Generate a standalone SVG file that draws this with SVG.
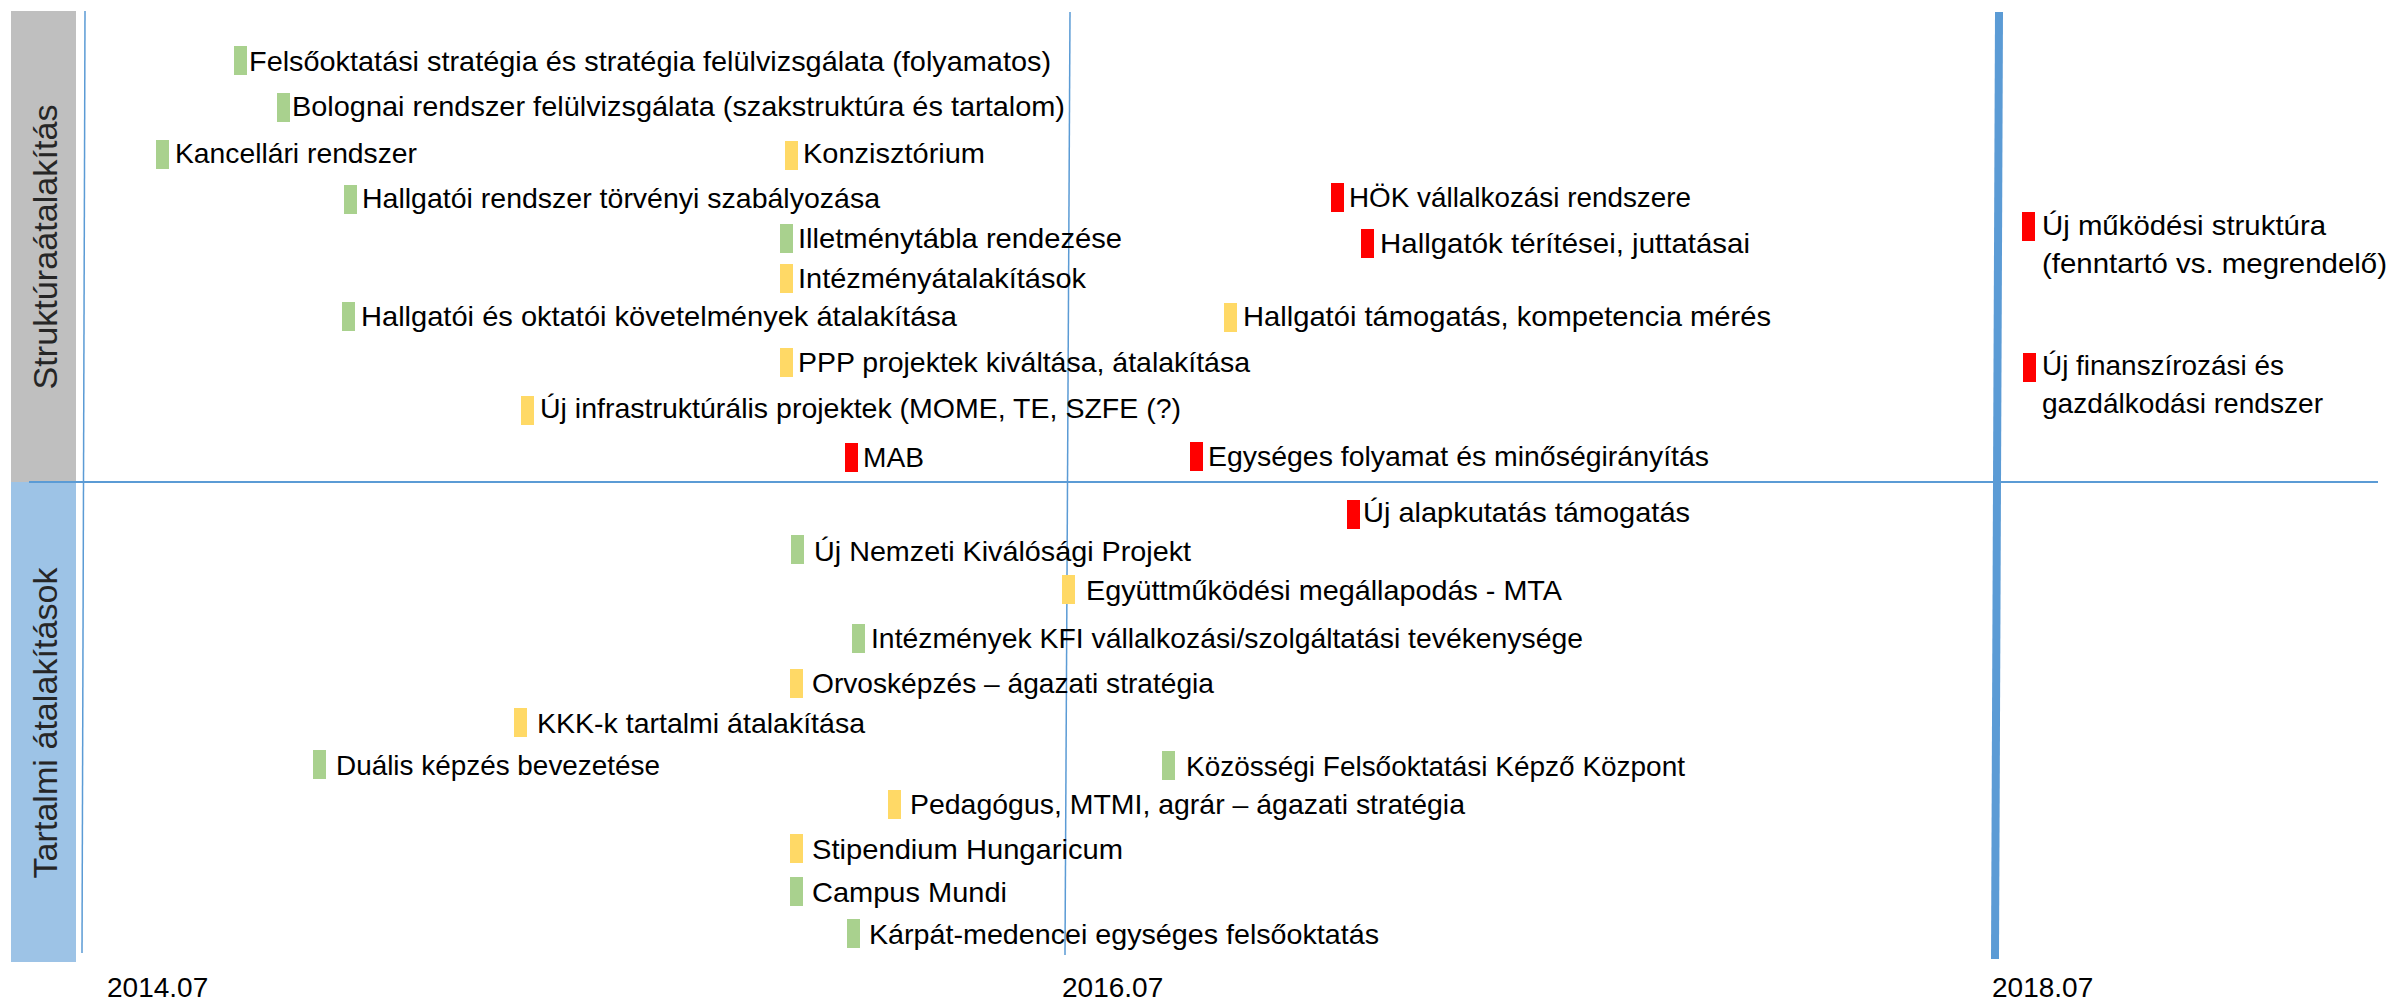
<svg xmlns="http://www.w3.org/2000/svg" width="2392" height="1002" viewBox="0 0 2392 1002">
<style>
.t{font-family:"Liberation Sans",Arial,sans-serif;font-size:28px;fill:#000}
.v{font-family:"Liberation Sans",Arial,sans-serif;font-size:34px;fill:#262626}
.g{fill:#A9D18E}.y{fill:#FFD966}.r{fill:#FF0000}
.ax{stroke:#5B9BD5;fill:none}
</style>
<rect width="2392" height="1002" fill="#fff"/>
<g id="lane-struktura">
<rect x="11" y="11" width="65" height="471" fill="#BFBFBF"/>
<text class="v" transform="translate(57,247) rotate(-90)" text-anchor="middle" textLength="285" lengthAdjust="spacingAndGlyphs">Struktúraátalakítás</text>
</g>
<g id="lane-tartalmi">
<rect x="11" y="482" width="65" height="480" fill="#9DC3E6"/>
<text class="v" transform="translate(57,723) rotate(-90)" text-anchor="middle" textLength="311" lengthAdjust="spacingAndGlyphs">Tartalmi átalakítások</text>
</g>
<g id="connectors">
<line class="ax" x1="85" y1="11" x2="82" y2="953" stroke-width="1.5"/>
<line class="ax" x1="1070" y1="12" x2="1065" y2="955" stroke-width="1.5"/>
<line class="ax" x1="29" y1="482" x2="2378" y2="482" stroke-width="2"/>
<line class="ax" x1="1999" y1="12" x2="1995" y2="959" stroke-width="8"/>
</g>
<g id="axis-labels">
<text class="t" x="107" y="997">2014.07</text>
<text class="t" x="1062" y="997">2016.07</text>
<text class="t" x="1992" y="997">2018.07</text>
</g>
<g id="n1"><rect class="g" x="234" y="46" width="13" height="29"/><text class="t" x="249" y="71" textLength="802" lengthAdjust="spacingAndGlyphs">Felsőoktatási stratégia és stratégia felülvizsgálata (folyamatos)</text></g>
<g id="n2"><rect class="g" x="277" y="93" width="13" height="29"/><text class="t" x="292" y="116" textLength="773" lengthAdjust="spacingAndGlyphs">Bolognai rendszer felülvizsgálata (szakstruktúra és tartalom)</text></g>
<g id="n3"><rect class="g" x="156" y="140" width="13" height="29"/><text class="t" x="175" y="163" textLength="242" lengthAdjust="spacingAndGlyphs">Kancellári rendszer</text></g>
<g id="n4"><rect class="y" x="785" y="141" width="13" height="29"/><text class="t" x="803" y="163" textLength="182" lengthAdjust="spacingAndGlyphs">Konzisztórium</text></g>
<g id="n5"><rect class="g" x="344" y="185" width="13" height="29"/><text class="t" x="362" y="208" textLength="518" lengthAdjust="spacingAndGlyphs">Hallgatói rendszer törvényi szabályozása</text></g>
<g id="n6"><rect class="r" x="1331" y="183" width="13" height="29"/><text class="t" x="1349" y="207" textLength="342" lengthAdjust="spacingAndGlyphs">HÖK vállalkozási rendszere</text></g>
<g id="n7"><rect class="g" x="780" y="224" width="13" height="29"/><text class="t" x="798" y="248" textLength="324" lengthAdjust="spacingAndGlyphs">Illetménytábla rendezése</text></g>
<g id="n8"><rect class="r" x="1361" y="229" width="13" height="29"/><text class="t" x="1380" y="253" textLength="370" lengthAdjust="spacingAndGlyphs">Hallgatók térítései, juttatásai</text></g>
<g id="n9"><rect class="y" x="780" y="264" width="13" height="29"/><text class="t" x="798" y="288" textLength="288" lengthAdjust="spacingAndGlyphs">Intézményátalakítások</text></g>
<g id="n10"><rect class="g" x="342" y="302" width="13" height="29"/><text class="t" x="361" y="326" textLength="596" lengthAdjust="spacingAndGlyphs">Hallgatói és oktatói követelmények átalakítása</text></g>
<g id="n11"><rect class="y" x="1224" y="303" width="13" height="29"/><text class="t" x="1243" y="326" textLength="528" lengthAdjust="spacingAndGlyphs">Hallgatói támogatás, kompetencia mérés</text></g>
<g id="n12"><rect class="y" x="780" y="348" width="13" height="29"/><text class="t" x="798" y="372" textLength="452" lengthAdjust="spacingAndGlyphs">PPP projektek kiváltása, átalakítása</text></g>
<g id="n13"><rect class="y" x="521" y="396" width="13" height="29"/><text class="t" x="540" y="418" textLength="641" lengthAdjust="spacingAndGlyphs">Új infrastruktúrális projektek (MOME, TE, SZFE (?)</text></g>
<g id="n14"><rect class="r" x="845" y="443" width="13" height="29"/><text class="t" x="863" y="467" textLength="61" lengthAdjust="spacingAndGlyphs">MAB</text></g>
<g id="n15"><rect class="r" x="1190" y="442" width="13" height="29"/><text class="t" x="1208" y="466" textLength="501" lengthAdjust="spacingAndGlyphs">Egységes folyamat és minőségirányítás</text></g>
<g id="n16"><rect class="r" x="2022" y="212" width="13" height="29"/><text class="t" x="2042" y="235" textLength="284" lengthAdjust="spacingAndGlyphs">Új működési struktúra</text><text class="t" x="2042" y="273" textLength="345" lengthAdjust="spacingAndGlyphs">(fenntartó vs. megrendelő)</text></g>
<g id="n17"><rect class="r" x="2023" y="353" width="13" height="29"/><text class="t" x="2042" y="375" textLength="242" lengthAdjust="spacingAndGlyphs">Új finanszírozási és</text><text class="t" x="2042" y="413" textLength="281" lengthAdjust="spacingAndGlyphs">gazdálkodási rendszer</text></g>
<g id="n18"><rect class="r" x="1347" y="500" width="13" height="29"/><text class="t" x="1363" y="522" textLength="327" lengthAdjust="spacingAndGlyphs">Új alapkutatás támogatás</text></g>
<g id="n19"><rect class="g" x="791" y="535" width="13" height="29"/><text class="t" x="814" y="561" textLength="377" lengthAdjust="spacingAndGlyphs">Új Nemzeti Kiválósági Projekt</text></g>
<g id="n20"><rect class="y" x="1062" y="575" width="13" height="29"/><text class="t" x="1086" y="600" textLength="476" lengthAdjust="spacingAndGlyphs">Együttműködési megállapodás - MTA</text></g>
<g id="n21"><rect class="g" x="852" y="624" width="13" height="29"/><text class="t" x="871" y="648" textLength="712" lengthAdjust="spacingAndGlyphs">Intézmények KFI vállalkozási/szolgáltatási tevékenysége</text></g>
<g id="n22"><rect class="y" x="790" y="669" width="13" height="29"/><text class="t" x="812" y="693" textLength="402" lengthAdjust="spacingAndGlyphs">Orvosképzés – ágazati stratégia</text></g>
<g id="n23"><rect class="y" x="514" y="708" width="13" height="29"/><text class="t" x="537" y="733" textLength="328" lengthAdjust="spacingAndGlyphs">KKK-k tartalmi átalakítása</text></g>
<g id="n24"><rect class="g" x="313" y="750" width="13" height="29"/><text class="t" x="336" y="775" textLength="324" lengthAdjust="spacingAndGlyphs">Duális képzés bevezetése</text></g>
<g id="n25"><rect class="g" x="1162" y="751" width="13" height="29"/><text class="t" x="1186" y="776" textLength="499" lengthAdjust="spacingAndGlyphs">Közösségi Felsőoktatási Képző Központ</text></g>
<g id="n26"><rect class="y" x="888" y="790" width="13" height="29"/><text class="t" x="910" y="814" textLength="555" lengthAdjust="spacingAndGlyphs">Pedagógus, MTMI, agrár – ágazati stratégia</text></g>
<g id="n27"><rect class="y" x="790" y="834" width="13" height="29"/><text class="t" x="812" y="859" textLength="311" lengthAdjust="spacingAndGlyphs">Stipendium Hungaricum</text></g>
<g id="n28"><rect class="g" x="790" y="877" width="13" height="29"/><text class="t" x="812" y="902" textLength="195" lengthAdjust="spacingAndGlyphs">Campus Mundi</text></g>
<g id="n29"><rect class="g" x="847" y="919" width="13" height="29"/><text class="t" x="869" y="944" textLength="510" lengthAdjust="spacingAndGlyphs">Kárpát-medencei egységes felsőoktatás</text></g>
</svg>
